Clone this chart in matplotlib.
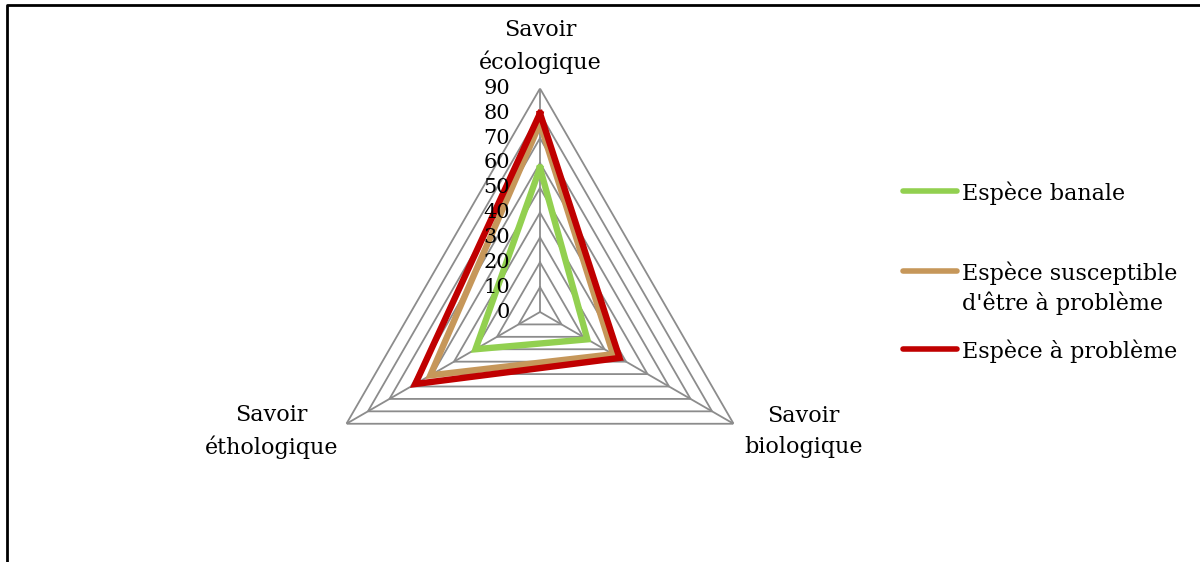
import numpy as np
import matplotlib
matplotlib.use("Agg")
import matplotlib.pyplot as plt
from matplotlib.lines import Line2D

### Data
axes_labels = ["Savoir\nécologique", "Savoir\nbiologique", "Savoir\néthologique"]
series_names = ["Espèce banale", "Espèce susceptible\nd'être à problème", "Espèce à problème"]
banale = [58, 22, 30]
susceptible = [76, 34, 51]
probleme = [80, 37, 58]
grid_levels = [0, 10, 20, 30, 40, 50, 60, 70, 80, 90]

colors = ["#92D050", "#C6975A", "#C00000"]
grid_color = "#8C8C8C"
font = "DejaVu Serif"
fs_tick = 15
fs = 16

fig = plt.figure(figsize=(12, 5.62), dpi=100)
W, H = 1200, 562

# polar axes placed so the centre sits at (540, 312) px and r=90 is 223 px
cx, cy, R = 540, 312, 223.5
ax = fig.add_axes([(cx - R) / W, (H - cy - R) / H, 2 * R / W, 2 * R / H],
                  projection="polar")
ax.set_theta_offset(np.pi / 2)
ax.set_theta_direction(-1)
ax.set_ylim(0, 90)
ax.grid(False)
ax.set_xticks([])
ax.set_yticks([])
ax.spines["polar"].set_visible(False)
ax.patch.set_visible(False)

theta = np.linspace(0, 2 * np.pi, len(axes_labels), endpoint=False)
theta_closed = np.append(theta, theta[0])

# grid triangles and spokes
for lvl in grid_levels[1:]:
    ax.plot(theta_closed, [lvl] * len(theta_closed), color=grid_color, lw=1.3, zorder=1)
for t in theta:
    ax.plot([t, t], [0, grid_levels[-1]], color=grid_color, lw=1.3, zorder=1)

# value labels along the top spoke
for lvl in grid_levels:
    ax.annotate(str(lvl), xy=(0, lvl), xytext=(-30, 0), textcoords="offset pixels",
                ha="right", va="center", fontsize=fs_tick, family=font, zorder=5)

# series
for vals, c in zip([banale, susceptible, probleme], colors):
    ax.plot(theta_closed, vals + vals[:1], color=c, lw=4.6, solid_joinstyle="miter",
            zorder=3)

# category labels
ax.annotate(axes_labels[0], xy=(0, 90), xytext=(0, 15), textcoords="offset pixels",
            ha="center", va="bottom", fontsize=fs, family=font, linespacing=1.5)
ax.annotate(axes_labels[1], xy=(theta[1], 90), xytext=(70, -8), textcoords="offset pixels",
            ha="center", va="center", fontsize=fs, family=font, linespacing=1.5)
ax.annotate(axes_labels[2], xy=(theta[2], 90), xytext=(-75, -8), textcoords="offset pixels",
            ha="center", va="center", fontsize=fs, family=font, linespacing=1.5)

# legend, laid out like the original
leg_y = [191, 271, 349]
for name, c, y in zip(series_names, colors, leg_y):
    fig.add_artist(Line2D([903 / W, 957 / W], [(H - y) / H] * 2, color=c, lw=4,
                          solid_capstyle="round"))
    n_extra = name.count("\n")
    fig.text(962 / W, (H - y - 9 - 30 * n_extra) / H, name, ha="left", va="baseline",
             fontsize=fs, family=font, linespacing=1.35)

# partial chart frame (top and left edges)
fig.add_artist(Line2D([7 / W, 7 / W, 1.0], [0.0, (H - 5) / H, (H - 5) / H],
                      color="black", lw=2))

fig.savefig("out.png", dpi=100)
